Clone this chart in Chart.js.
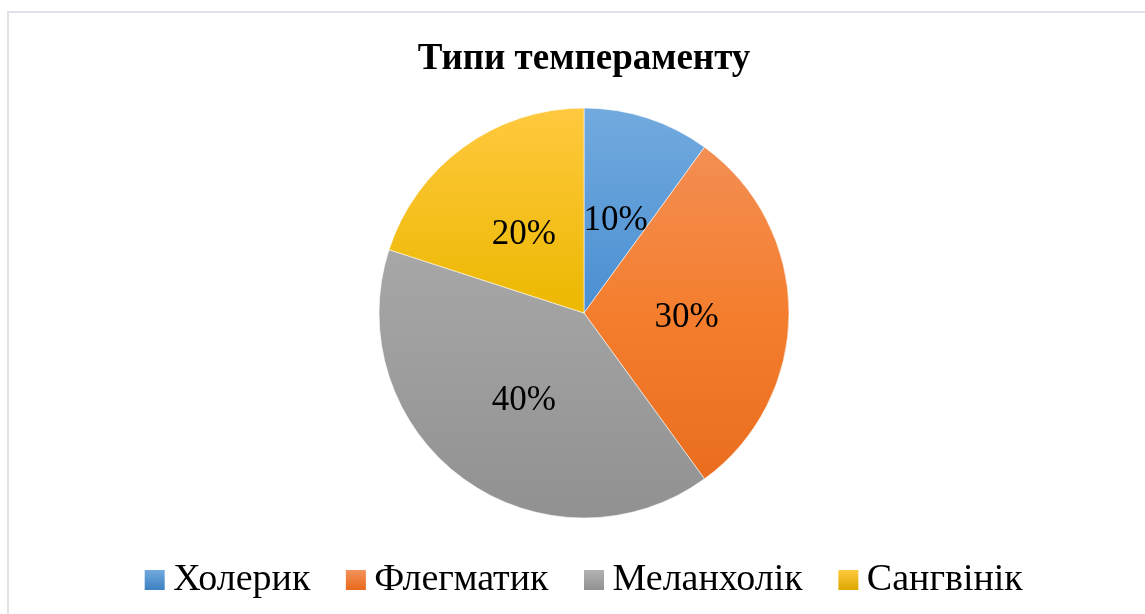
<!DOCTYPE html>
<html>
<head>
<meta charset="utf-8">
<script src="https://cdn.jsdelivr.net/npm/chart.js@4.4.1/dist/chart.umd.min.js"></script>
<style>
  html, body { margin: 0; padding: 0; background: #fff; overflow: hidden; }
  #frame {
    position: absolute; left: 7px; top: 11px;
    width: 1150px; height: 601px;
    border: 2px solid #dfe3e9;
    background: #fff;
  }
  #wrap { position: relative; width: 1150px; height: 601px; }
</style>
</head>
<body>
<div id="frame"><div id="wrap"><canvas id="pie"></canvas></div></div>
<script>
const categories = ['Холерик', 'Флегматик', 'Меланхолік', 'Сангвінік'];
const shares = [10, 30, 40, 20];
const chartTitle = 'Типи темпераменту';

// light-to-dark stops, like the office "gradient" fill
const sliceStops = [
    ['#72aade', '#4a8fd2', '#3d80c2'],
    ['#f3925c', '#f47e2e', '#e8691a'],
    ['#b3b3b3', '#a2a2a2', '#919191'],
    ['#ffc93f', '#ecb800', '#dca800']
];

const PIE_R = 205;
const serif = "'Liberation Serif', 'Times New Roman', serif";

function sliceFill(ctx) {
    const chart = ctx.chart;
    const area = chart.chartArea;
    const stops = sliceStops[ctx.dataIndex];
    if (!area) return stops[1];
    const cy = (area.top + area.bottom) / 2;
    const g = chart.ctx.createLinearGradient(0, cy - PIE_R, 0, cy + PIE_R);
    g.addColorStop(0, stops[0]);
    g.addColorStop(0.5, stops[1]);
    g.addColorStop(1, stops[2]);
    return g;
}

// legend square drawn off-centre so the text sits close to it
function legendSwatch(stops) {
    const c = document.createElement('canvas');
    c.width = 40;
    c.height = 20;
    const x = c.getContext('2d');
    const g = x.createLinearGradient(0, 0, 0, 20);
    g.addColorStop(0, stops[0]);
    g.addColorStop(1, stops[2]);
    x.fillStyle = g;
    x.fillRect(15, 0, 20, 20);
    return c;
}
const swatches = sliceStops.map(legendSwatch);

const percentLabels = {
    id: 'percentLabels',
    afterDatasetsDraw(chart) {
        const { ctx } = chart;
        const meta = chart.getDatasetMeta(0);
        const total = shares.reduce((a, b) => a + b, 0);
        ctx.save();
        ctx.font = '35px ' + serif;
        ctx.fillStyle = '#000';
        ctx.textAlign = 'center';
        ctx.textBaseline = 'middle';
        meta.data.forEach((arc, i) => {
            const mid = (arc.startAngle + arc.endAngle) / 2;
            const r = arc.outerRadius * 0.5;
            const txt = Math.round(shares[i] / total * 100) + '%';
            ctx.fillText(txt, arc.x + Math.cos(mid) * r, arc.y + Math.sin(mid) * r + 5);
        });
        ctx.restore();
    }
};

new Chart(document.getElementById('pie'), {
    type: 'pie',
    data: {
        labels: categories,
        datasets: [{
            data: shares,
            backgroundColor: sliceFill,
            borderColor: 'rgba(255,255,255,0.55)',
            borderWidth: 1
        }]
    },
    options: {
        responsive: true,
        maintainAspectRatio: false,
        animation: false,
        radius: PIE_R,
        layout: { padding: { top: 0, bottom: 5 } },
        plugins: {
            tooltip: { enabled: false },
            title: {
                display: true,
                text: chartTitle,
                color: '#000',
                font: { family: serif, size: 37, weight: 'bold' },
                padding: { top: 24, bottom: 19.6 }
            },
            legend: {
                position: 'bottom',
                labels: {
                    color: '#000',
                    font: { family: serif, size: 38 },
                    usePointStyle: true,
                    boxWidth: 9,
                    boxHeight: 20,
                    padding: 36,
                    generateLabels: (chart) => categories.map((name, i) => ({
                        text: name,
                        pointStyle: swatches[i],
                        fillStyle: sliceStops[i][1],
                        strokeStyle: sliceStops[i][1],
                        lineWidth: 0,
                        fontColor: '#000',
                        hidden: false,
                        index: i
                    }))
                }
            }
        }
    },
    plugins: [percentLabels]
});
</script>
</body>
</html>
